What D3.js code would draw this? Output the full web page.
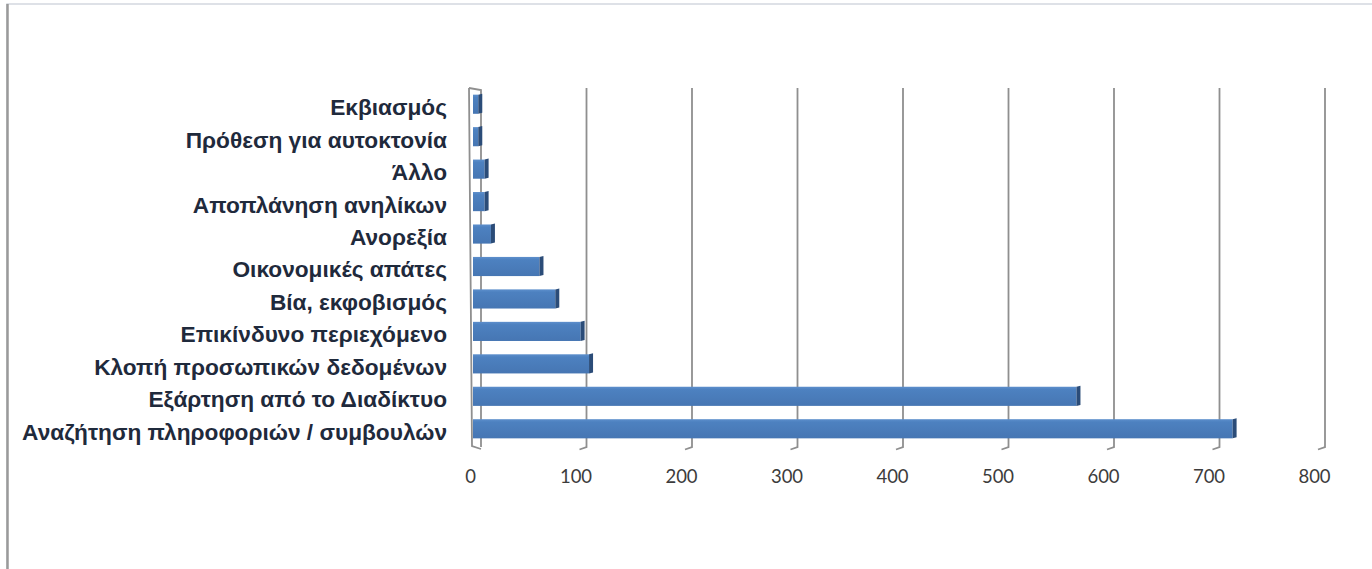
<!DOCTYPE html>
<html><head><meta charset="utf-8">
<script src="https://cdn.jsdelivr.net/npm/d3@7"></script>
<style>html,body{margin:0;padding:0;background:#fff;overflow:hidden}</style>
</head><body>
<svg id="c" width="1372" height="569"></svg>
<script>
const categories = ["Εκβιασμός","Πρόθεση για αυτοκτονία","Άλλο","Αποπλάνηση ανηλίκων","Ανορεξία","Οικονομικές απάτες","Βία, εκφοβισμός","Επικίνδυνο περιεχόμενο","Κλοπή προσωπικών δεδομένων","Εξάρτηση από το Διαδίκτυο","Αναζήτηση πληροφοριών / συμβουλών"];
const values = [5,5,11,11,17,63,78,102,110,572,720];
const tickValues = [0,100,200,300,400,500,600,700,800];

const svg = d3.select("#c");
const defs = svg.append("defs");
const g1 = defs.append("linearGradient").attr("id","front").attr("x1",0).attr("y1",0).attr("x2",0).attr("y2",1);
g1.append("stop").attr("offset","0").attr("stop-color","#5d8fcc");
g1.append("stop").attr("offset","0.15").attr("stop-color","#4d81c0");
g1.append("stop").attr("offset","1").attr("stop-color","#4676b3");

// frame
svg.append("rect").attr("x",7).attr("y",4).attr("width",1372).attr("height",600)
  .attr("fill","#fff").attr("stroke","#d4d8e0").attr("stroke-width",1.5);
svg.append("line").attr("x1",7.5).attr("x2",7.5).attr("y1",4).attr("y2",569)
  .attr("stroke","#9a9a9a").attr("stroke-width",2.5);

const x = d3.scaleLinear().domain([0,800]).range([473,1317]);
const depth = 8;
const y = d3.scaleBand().domain(categories).range([88,445]).paddingInner(0.41).paddingOuter(0.205);

const plotTop = 88, plotBottom = 447;
// left wall
svg.append("path")
  .attr("d", `M${x(0)-4},${plotTop} L${x(0)+depth},${plotTop+2} L${x(0)+depth},${plotBottom} M${x(0)-4},${plotTop} L${x(0)-1},${plotBottom-1} L${x(0)+depth},${plotBottom+2}`)
  .attr("fill","none").attr("stroke","#8f8f8f").attr("stroke-width",1.8);

// gridlines (back wall)
svg.append("g").selectAll("path").data(tickValues.slice(1)).join("path")
  .attr("d", d => `M${x(d)+depth},${plotTop} L${x(d)+depth},${plotBottom} L${x(d)+depth-7},${plotBottom+2.5}`)
  .attr("fill","none").attr("stroke","#8f8f8f").attr("stroke-width",1.8);

// bars
const bars = svg.append("g").selectAll("g").data(categories).join("g");
bars.append("rect")
  .attr("x", x(0))
  .attr("y", d => y(d))
  .attr("width", (d,i) => x(values[i]) - x(0))
  .attr("height", y.bandwidth())
  .attr("fill","url(#front)");
bars.append("path")
  .attr("d", (d,i) => {
    const xe = x(values[i]), yt = y(d), h = y.bandwidth();
    return `M${xe},${yt} L${xe+4},${yt-1} L${xe+4},${yt+h-1} L${xe},${yt+h} Z`;
  })
  .attr("fill","#2b4c78");

// x axis labels
const axis = d3.axisBottom(x).tickValues(tickValues).tickSize(0).tickFormat(d3.format("d"));
const ax = svg.append("g").attr("transform","translate(-3,467)").call(axis);
ax.select(".domain").remove();
ax.selectAll("text").attr("font-family","Lato, 'Open Sans', sans-serif").attr("font-size","18.5px")
  .attr("fill","#3c3c3c").attr("dy","0.71em");

// category labels
const labels = svg.append("g").selectAll("text").data(categories).join("text")
  .attr("x", 447)
  .attr("y", d => y(d) + y.bandwidth()/2 + 3)
  .attr("dy","0.35em")
  .attr("text-anchor","end")
  .attr("font-family","'Liberation Sans', Arial, sans-serif")
  .attr("font-weight","bold")
  .attr("font-size","18px")
  .attr("fill","#1f2a3c")
  .text(d => d);
const longest = labels.filter(d => d === categories[categories.length-1]).node();
const w = longest.getComputedTextLength();
labels.attr("font-size", (18*425/w).toFixed(2)+"px");
</script>
</body></html>
